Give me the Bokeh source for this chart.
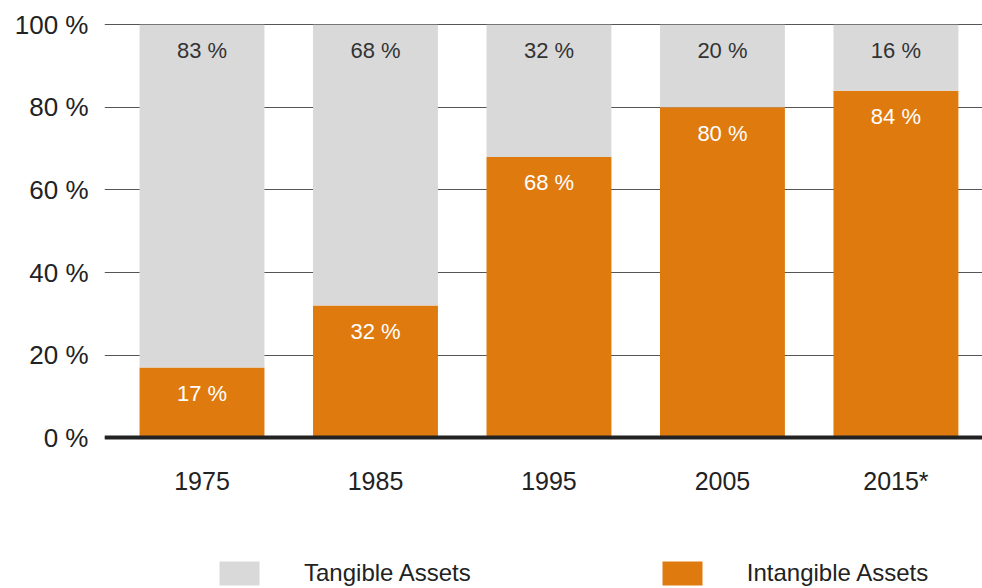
from bokeh.plotting import figure
from bokeh.models import Range1d, FixedTicker, Legend, LegendItem, ColumnDataSource, LinearAxis
from bokeh.core.properties import value
from bokeh.embed import file_html
from bokeh.resources import INLINE

years = ["1975", "1985", "1995", "2005", "2015*"]
intangible = [17, 32, 68, 80, 84]
tangible = [83, 68, 32, 20, 16]
y_ticks = [0, 20, 40, 60, 80, 100]

GRAY = "#D9D9D9"
ORANGE = "#DF7A0F"
FONT = "Liberation Sans"

xs = list(range(len(years)))
src = ColumnDataSource(dict(
    x=xs,
    intangible=intangible,
    tangible=tangible,
    total=[a + b for a, b in zip(intangible, tangible)],
    lab_i=[f"{v} %" for v in intangible],
    lab_t=[f"{v} %" for v in tangible],
))

p = figure(width=982, height=588, output_backend="svg", toolbar_location=None,
           x_range=Range1d(-0.562, 4.499), y_range=Range1d(-36.5, 102),
           x_axis_location=None,
           min_border_left=104, min_border_right=0, min_border_top=16, min_border_bottom=0)
p.outline_line_color = None
p.background_fill_color = "white"

rs = p.vbar_stack(["intangible", "tangible"], x="x", width=0.72, source=src,
                  color=[ORANGE, GRAY], line_color=None)

p.text(x="x", y="intangible", text="lab_i", source=src, text_align="center",
       text_baseline="middle", y_offset=26, text_color="white",
       text_font=value(FONT), text_font_size="22px")
p.text(x="x", y="total", text="lab_t", source=src, text_align="center",
       text_baseline="middle", y_offset=26, text_color="#333333",
       text_font=value(FONT), text_font_size="22px")

p.xgrid.visible = False
p.ygrid.ticker = FixedTicker(ticks=y_ticks)
p.ygrid.grid_line_color = "#555555"
p.ygrid.grid_line_width = 1
p.ygrid.level = "underlay"

p.yaxis.ticker = FixedTicker(ticks=y_ticks)
p.yaxis.major_label_overrides = {t: f"{t} %" for t in y_ticks}
p.yaxis.axis_line_color = None
p.yaxis.major_tick_line_color = None
p.yaxis.minor_tick_line_color = None
p.yaxis.major_label_standoff = 10
p.yaxis.major_label_text_font = FONT
p.yaxis.major_label_text_font_size = "26px"
p.yaxis.major_label_text_color = "#222222"

xaxis = LinearAxis(fixed_location=0)
xaxis.ticker = FixedTicker(ticks=xs)
xaxis.major_label_overrides = {i: y for i, y in enumerate(years)}
xaxis.axis_line_color = "#222222"
xaxis.axis_line_width = 4
xaxis.major_tick_line_color = None
xaxis.minor_tick_line_color = None
xaxis.major_label_standoff = 23
xaxis.major_label_text_font = FONT
xaxis.major_label_text_font_size = "25px"
xaxis.major_label_text_color = "#222222"
p.add_layout(xaxis, "below")

legend = Legend(items=[LegendItem(label="Tangible Assets", renderers=[rs[1]]),
                       LegendItem(label="Intangible Assets", renderers=[rs[0]])],
                orientation="horizontal", location=(110, 0),
                glyph_width=50, glyph_height=30, label_standoff=40, spacing=186,
                padding=0, margin=0, border_line_color=None,
                background_fill_alpha=0,
                label_text_font=FONT, label_text_font_size="24px",
                label_text_color="#222222", label_height=30)
p.add_layout(legend, "center")

open("out.html", "w").write(file_html(p, INLINE))
